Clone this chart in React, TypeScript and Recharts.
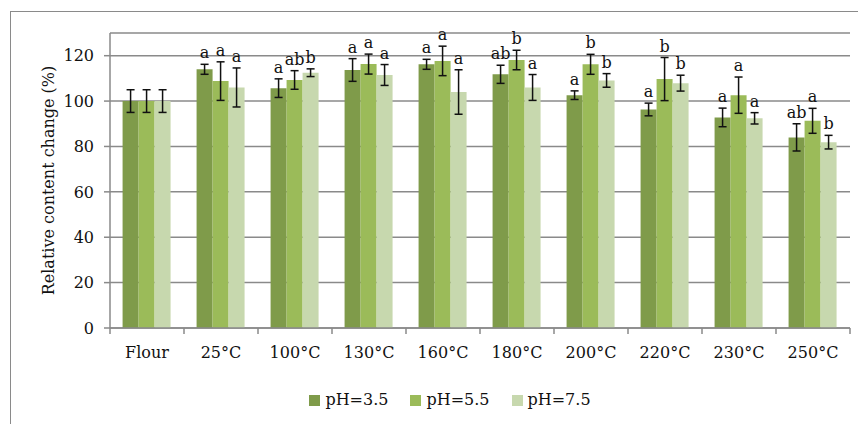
import React from "react";
import { Bar, BarChart, CartesianGrid, ErrorBar, LabelList, Legend, XAxis, YAxis } from "recharts";

const categories = ["Flour", "25°C", "100°C", "130°C", "160°C", "180°C", "200°C", "220°C", "230°C", "250°C"];
const ph35 = [100, 114, 105.7, 113.7, 116.2, 111.8, 102.6, 96.3, 92.8, 84];
const ph55 = [100, 108.8, 109.3, 116.3, 117.7, 118.1, 116.2, 109.7, 102.6, 91.3];
const ph75 = [100, 106, 112.5, 111.5, 104, 106, 109.1, 107.9, 92.4, 81.9];
const err35 = [5, 2.2, 4.1, 5, 2.2, 4, 1.9, 2.8, 4.1, 6];
const err55 = [5, 8.5, 4.1, 4.4, 6.5, 4.3, 4.4, 9.5, 8, 5.5];
const err75 = [5, 8.6, 1.7, 4.6, 9.8, 5.7, 3, 3.5, 2.5, 3];
const let35 = ["", "a", "a", "a", "a", "ab", "a", "a", "a", "ab"];
const let55 = ["", "a", "ab", "a", "a", "b", "b", "b", "a", "a"];
const let75 = ["", "a", "b", "a", "a", "a", "b", "b", "a", "b"];
const yTicks = [0, 20, 40, 60, 80, 100, 120];

const series = [
  { key: "v35", err: "e35", name: "pH=3.5", color: "#7F9B4A", letters: let35, errs: err35 },
  { key: "v55", err: "e55", name: "pH=5.5", color: "#9BBB59", letters: let55, errs: err55 },
  { key: "v75", err: "e75", name: "pH=7.5", color: "#C7D8AE", letters: let75, errs: err75 },
];

const data = categories.map((name, i) => ({
  name,
  v35: ph35[i],
  v55: ph55[i],
  v75: ph75[i],
  e35: err35[i],
  e55: err55[i],
  e75: err75[i],
}));

const FONT = "DejaVu Serif";
const FS = 16;
const W = 858;
const H = 424;
const LEFT = 110;
const RIGHT = 8;
const BAND = (W - LEFT - RIGHT) / categories.length;

const letterLabel = (letters: string[], errs: number[]) => (props: any) => {
  const vb = props.viewBox ?? props;
  const x = props.x ?? vb.x;
  const y = props.y ?? vb.y;
  const width = props.width ?? vb.width;
  const height = props.height ?? vb.height;
  const idx = props.index;
  const text = letters[idx];
  if (!text) return null;
  const pxPerUnit = Math.abs(height) / props.value;
  const top = y - errs[idx] * pxPerUnit;
  return (
    <text x={x + width / 2} y={top - 6} textAnchor="middle" fontFamily={FONT} fontSize={FS} fill="#111">
      {text}
    </text>
  );
};

const XTick = (props: any) => {
  const { x, y, payload, index } = props;
  const isLast = index === categories.length - 1;
  return (
    <g>
      <line x1={x - BAND / 2} x2={x - BAND / 2} y1={y} y2={y + 6} stroke="#8a8a8a" strokeWidth={1.5} />
      {isLast && <line x1={x + BAND / 2} x2={x + BAND / 2} y1={y} y2={y + 6} stroke="#8a8a8a" strokeWidth={1.5} />}
      <text x={x} y={y + 30} textAnchor="middle" fontFamily={FONT} fontSize={FS} fill="#111">
        {payload.value}
      </text>
    </g>
  );
};

const YLabel = (props: any) => {
  const vb = props.viewBox;
  const cx = vb.x + 38;
  const cy = vb.y + vb.height / 2;
  return (
    <text x={cx} y={cy} transform={`rotate(-90 ${cx} ${cy})`} textAnchor="middle" dominantBaseline="central" fontFamily={FONT} fontSize={FS} fill="#111">
      Relative content change (%)
    </text>
  );
};

const LegendContent = () => (
  <div style={{ display: "flex", justifyContent: "center", gap: 22, fontFamily: FONT, fontSize: FS, color: "#111", lineHeight: "20px" }}>
    {series.map((s) => (
      <span key={s.key} style={{ display: "flex", alignItems: "center", gap: 5 }}>
        <span style={{ width: 11, height: 11, background: s.color, display: "inline-block" }} />
        {s.name}
      </span>
    ))}
  </div>
);

export default function App() {
  return (
    <div style={{ position: "absolute", left: 0, top: 0, width: W, height: H, overflow: "hidden", background: "#fff" }}>
      <div style={{ position: "absolute", left: 10, top: 11, width: 900, height: 500, border: "1.5px solid #8a8a8a" }} />
      <BarChart
        width={W}
        height={H}
        data={data}
        margin={{ top: 33, right: RIGHT, left: 10, bottom: 46 }}
        barCategoryGap="17%"
        barGap={0}
      >
        <CartesianGrid vertical={false} stroke="#8a8a8a" strokeWidth={1.5} />
        <XAxis
          dataKey="name"
          axisLine={{ stroke: "#8a8a8a", strokeWidth: 1.5 }}
          tickLine={false}
          tickSize={0}
          tickMargin={0}
          tick={<XTick />}
          interval={0}
          height={30}
        />
        <YAxis
          width={100}
          domain={[0, 130]}
          ticks={yTicks}
          allowDataOverflow
          axisLine={{ stroke: "#8a8a8a", strokeWidth: 1.5 }}
          tickLine={{ stroke: "#8a8a8a", strokeWidth: 1.5 }}
          tickSize={6}
          tickMargin={10}
          tick={{ fontFamily: FONT, fontSize: FS, fill: "#111" }}
          label={<YLabel />}
        />
        <Legend verticalAlign="bottom" content={<LegendContent />} wrapperStyle={{ left: 270, width: 360, bottom: 14 }} />
        {series.map((s) => (
          <Bar key={s.key} dataKey={s.key} name={s.name} fill={s.color} isAnimationActive={false}>
            <ErrorBar dataKey={s.err} width={4} stroke="#111" strokeWidth={1.5} />
            <LabelList dataKey={s.key} content={letterLabel(s.letters, s.errs)} />
          </Bar>
        ))}
      </BarChart>
    </div>
  );
}
